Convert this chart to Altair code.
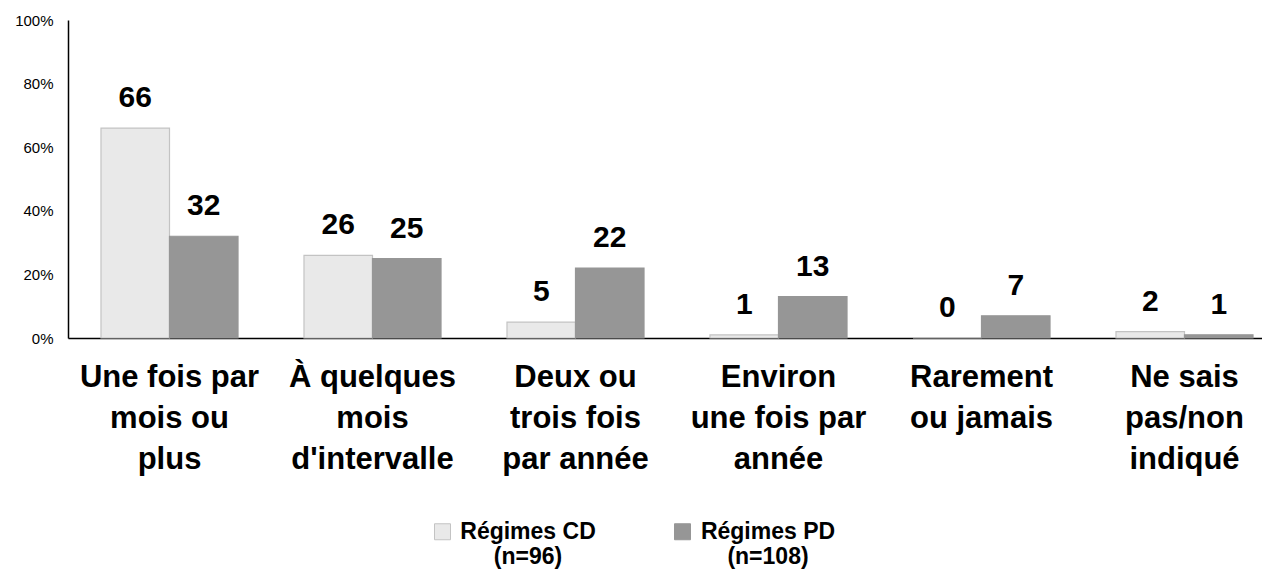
import json
import altair as alt
import pandas as pd

FONT = "Liberation Sans"

categories = [
    "Une fois par mois ou plus",
    "À quelques mois d'intervalle",
    "Deux ou trois fois par année",
    "Environ une fois par année",
    "Rarement ou jamais",
    "Ne sais pas/non indiqué",
]
category_lines = [
    ["Une fois par", "mois ou", "plus"],
    ["À quelques", "mois", "d'intervalle"],
    ["Deux ou", "trois fois", "par année"],
    ["Environ", "une fois par", "année"],
    ["Rarement", "ou jamais"],
    ["Ne sais", "pas/non", "indiqué"],
]
series = ["Régimes CD", "Régimes PD"]
series_n = ["(n=96)", "(n=108)"]
cd_values = [66, 26, 5, 1, 0, 2]
pd_values = [32, 25, 22, 13, 7, 1]
y_ticks = [0, 20, 40, 60, 80, 100]

df = pd.DataFrame({
    "cat": categories * 2,
    "series": [series[0]] * len(categories) + [series[1]] * len(categories),
    "value": cd_values + pd_values,
})

x_label_expr = json.dumps(dict(zip(categories, category_lines)), ensure_ascii=False) + "[datum.label]"
legend_label_expr = json.dumps({s: [s, n] for s, n in zip(series, series_n)}, ensure_ascii=False) + "[datum.label]"

base = alt.Chart(df).encode(
    x=alt.X(
        "cat:N", sort=categories, title=None,
        scale=alt.Scale(paddingInner=0.325, paddingOuter=0.1625, range=[0, 1218]),
        axis=alt.Axis(
            labelAngle=0, ticks=False, labelPadding=24, labelFontSize=31,
            labelFontWeight="bold", labelFont=FONT, labelColor="#000000",
            labelLineHeight=41, domainColor="#000000", domainWidth=1.5,
            labelExpr=x_label_expr, labelLimit=0,
        ),
    ),
    xOffset=alt.XOffset("series:N", sort=series, scale=alt.Scale(paddingInner=0, paddingOuter=0)),
    y=alt.Y(
        "value:Q", title=None,
        scale=alt.Scale(domain=[0, 100], nice=False),
        axis=alt.Axis(
            values=y_ticks, labelExpr="datum.value + '%'", ticks=False, grid=False,
            labelPadding=15, labelFontSize=15, labelFont=FONT, labelColor="#000000",
            domainColor="#000000", domainWidth=1.5,
        ),
    ),
)

legend = alt.Legend(
    orient="none", legendX=363, legendY=500, direction="horizontal", title=None,
    labelExpr=legend_label_expr, labelFontSize=23, labelFontWeight="bold",
    labelFont=FONT, labelColor="#000000", labelAlign="center", labelOffset=74,
    labelBaseline="middle", symbolType="square", symbolSize=256, symbolStrokeWidth=1,
    columnPadding=75, padding=0, labelLimit=0,
)

bars = base.mark_bar(strokeWidth=1.2).encode(
    color=alt.Color("series:N", sort=series,
                    scale=alt.Scale(domain=series, range=["#e9e9e9", "#969696"]),
                    legend=legend),
    stroke=alt.Stroke("series:N", sort=series,
                      scale=alt.Scale(domain=series, range=["#c3c3c3", "#969696"]),
                      legend=legend),
)

labels = base.mark_text(
    dy=-21, baseline="alphabetic", fontSize=30, fontWeight="bold", font=FONT, color="#000000"
).encode(text="value:Q")

chart = alt.layer(bars, labels).properties(
    width=1194, height=318,
    autosize=alt.AutoSizeParams(type="none"),
    padding={"left": 60, "top": 12, "right": 0, "bottom": 236},
).configure_view(stroke=None)

chart.save("out.html", embed_options={"renderer": "svg", "actions": False})
